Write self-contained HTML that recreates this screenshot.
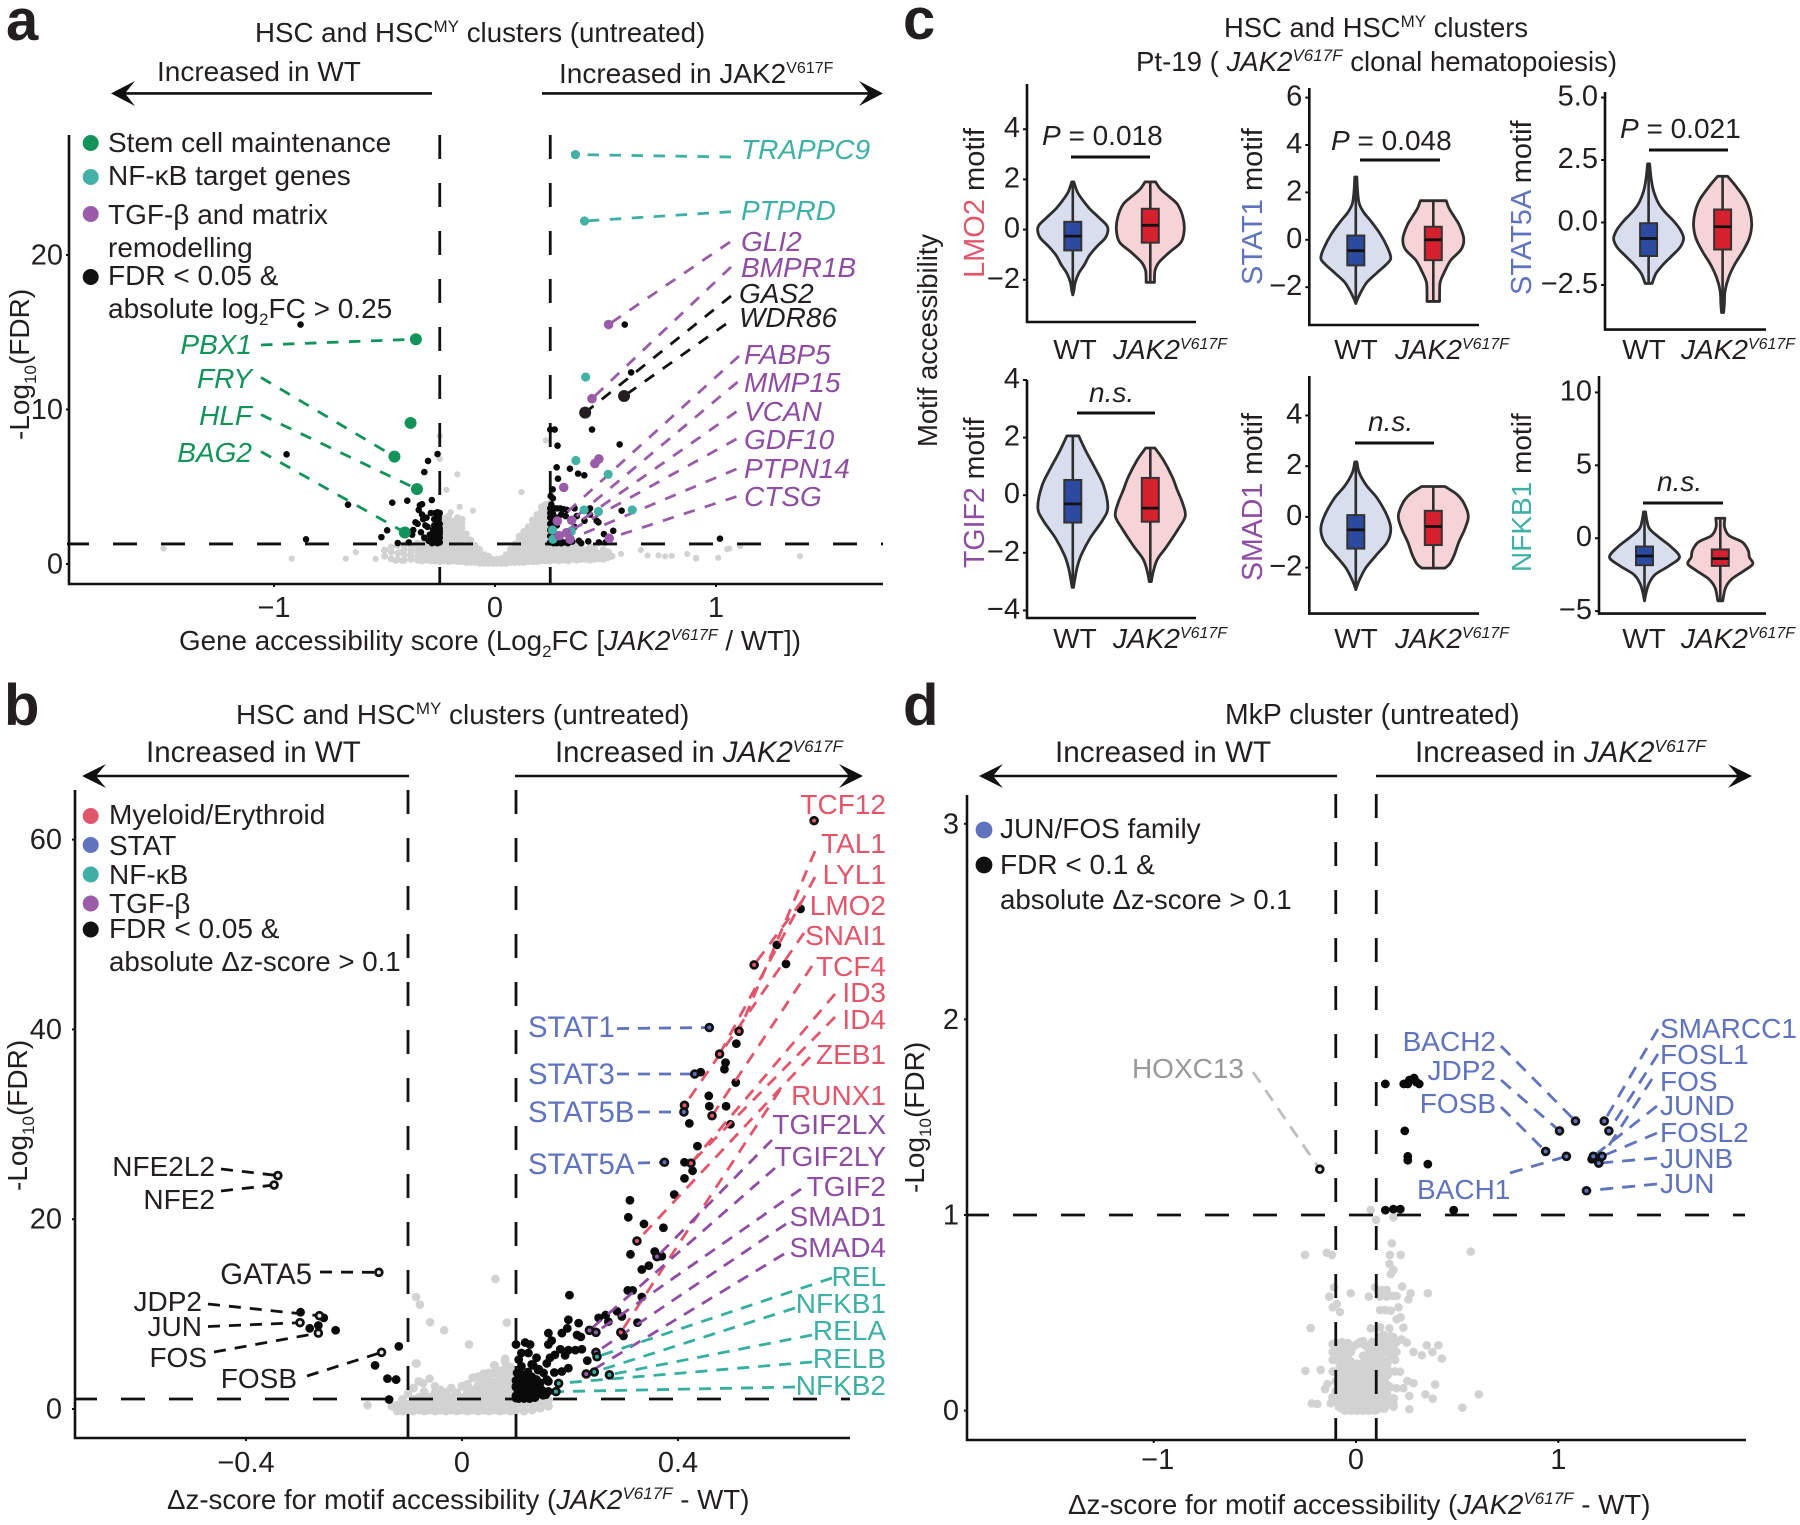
<!DOCTYPE html>
<html lang="en">
<head>
<meta charset="utf-8">
<title>Volcano and violin plots of motif accessibility</title>
<style>
html,body{margin:0;padding:0;background:#fff}
svg{display:block}
text{font-family:"Liberation Sans",sans-serif;fill:#231F20;font-size:28px}
.lt{font-size:58px;font-weight:700}
.i{font-style:italic}
.tk{font-size:29px}
.grn{fill:#12935A}.tl{fill:#3FB0A5}.pu{fill:#8F4CA3}.rd{fill:#E2566B}.bl{fill:#5F73BF}
</style>
</head>
<body>
<svg id="figure" xmlns="http://www.w3.org/2000/svg" width="1800" height="1525" viewBox="0 0 1800 1525">
<rect width="1800" height="1525" fill="#fff"/>

<!-- PANEL A -->
<g id="panel-a">
<text class="lt" x="6" y="40">a</text>
<text x="255" y="42" style="font-size:27.7px">HSC and HSC<tspan dy="-10" style="font-size:17px">MY</tspan><tspan dy="10"> clusters (untreated)</tspan></text>
<text x="157" y="81">Increased in WT</text>
<text x="559" y="83">Increased in JAK2<tspan dy="-10" style="font-size:16px">V617F</tspan></text>
<line x1="432" y1="93.4" x2="125" y2="93.4" stroke="#111" stroke-width="2.6"/>
<path d="M111 93.4 L135 81 L125 93.4 L135 106 Z" fill="#111"/>
<line x1="542" y1="93.4" x2="870" y2="93.4" stroke="#111" stroke-width="2.6"/>
<path d="M883 93.4 L859 81 L869 93.4 L859 106 Z" fill="#111"/>
<g id="a-marks"></g>
<line x1="69" y1="135" x2="69" y2="585" stroke="#111" stroke-width="2.6"/>
<line x1="68" y1="584" x2="883" y2="584" stroke="#111" stroke-width="2.6"/>
<g id="a-ticks"></g>
<text x="179" y="650" style="font-size:27.8px">Gene accessibility score (Log<tspan dy="7" style="font-size:17px">2</tspan><tspan dy="-7">FC [</tspan><tspan class="i">JAK2</tspan><tspan class="i" dy="-10" style="font-size:16px">V617F</tspan><tspan dy="10"> / WT])</tspan></text>
<text transform="translate(29,440) rotate(-90)" x="0" y="0">-Log<tspan dy="7" style="font-size:17px">10</tspan><tspan dy="-7">(FDR)</tspan></text>
<g>
<circle cx="90.7" cy="143" r="8" fill="#12935A"/>
<circle cx="90.7" cy="177" r="8" fill="#43B1A6"/>
<circle cx="90.7" cy="214" r="8" fill="#9A5BA8"/>
<circle cx="90.7" cy="277" r="8" fill="#111"/>
<text x="108" y="152">Stem cell maintenance</text>
<text x="108" y="185">NF-κB target genes</text>
<text x="108" y="224">TGF-β and matrix</text>
<text x="108" y="257">remodelling</text>
<text x="108" y="285">FDR &lt; 0.05 &amp;</text>
<text x="108" y="318">absolute log<tspan dy="7" style="font-size:17px">2</tspan><tspan dy="-7">FC &gt; 0.25</tspan></text>
</g>
<g class="i" text-anchor="end">
<text class="i grn" x="252" y="354">PBX1</text>
<text class="i grn" x="252" y="388">FRY</text>
<text class="i grn" x="252" y="425">HLF</text>
<text class="i grn" x="252" y="462">BAG2</text>
</g>
<g>
<text class="i tl" x="741" y="159">TRAPPC9</text>
<text class="i tl" x="741" y="220">PTPRD</text>
<text class="i pu" x="741" y="251">GLI2</text>
<text class="i pu" x="741" y="277">BMPR1B</text>
<text class="i" x="739" y="303">GAS2</text>
<text class="i" x="739" y="327">WDR86</text>
<text class="i pu" x="744" y="364">FABP5</text>
<text class="i pu" x="744" y="392">MMP15</text>
<text class="i pu" x="744" y="421">VCAN</text>
<text class="i pu" x="744" y="449">GDF10</text>
<text class="i pu" x="744" y="478">PTPN14</text>
<text class="i pu" x="744" y="506">CTSG</text>
</g>
</g>

<!-- PANEL B -->
<g id="panel-b">
<text class="lt" x="4" y="725">b</text>
<text x="236" y="724" style="font-size:27.9px">HSC and HSC<tspan dy="-10" style="font-size:17px">MY</tspan><tspan dy="10"> clusters (untreated)</tspan></text>
<text x="146" y="762" style="font-size:29.5px">Increased in WT</text>
<text x="555" y="762" style="font-size:29.3px">Increased in <tspan class="i">JAK2</tspan><tspan class="i" dy="-10" style="font-size:17px">V617F</tspan></text>
<line x1="409" y1="776" x2="96" y2="776" stroke="#111" stroke-width="2.6"/>
<path d="M82 776 L106 764 L96 776 L106 788 Z" fill="#111"/>
<line x1="515" y1="776" x2="850" y2="776" stroke="#111" stroke-width="2.6"/>
<path d="M863 776 L839 764 L849 776 L839 788 Z" fill="#111"/>
<g id="b-marks"></g>
<line x1="75" y1="790" x2="75" y2="1439" stroke="#111" stroke-width="2.6"/>
<line x1="74" y1="1438" x2="850" y2="1438" stroke="#111" stroke-width="2.6"/>
<g id="b-ticks"></g>
<text x="167" y="1509" style="font-size:27.7px">Δz-score for motif accessibility (<tspan class="i">JAK2</tspan><tspan class="i" dy="-10" style="font-size:17px">V617F</tspan><tspan dy="10"> - WT)</tspan></text>
<text transform="translate(27,1191) rotate(-90)" x="0" y="0">-Log<tspan dy="7" style="font-size:17px">10</tspan><tspan dy="-7">(FDR)</tspan></text>
<g>
<circle cx="90.7" cy="816" r="8" fill="#E2566B"/>
<circle cx="90.7" cy="845" r="8" fill="#5F73BF"/>
<circle cx="90.7" cy="874.5" r="8" fill="#3FB0A5"/>
<circle cx="90.7" cy="903.5" r="8" fill="#9A5BA8"/>
<circle cx="90.7" cy="929.5" r="8" fill="#111"/>
<text x="109" y="824">Myeloid/Erythroid</text>
<text x="109" y="855">STAT</text>
<text x="109" y="884">NF-κB</text>
<text x="109" y="913">TGF-β</text>
<text x="109" y="938">FDR &lt; 0.05 &amp;</text>
<text x="109" y="971" style="font-size:27.7px">absolute Δz-score &gt; 0.1</text>
</g>
<g text-anchor="end">
<text class="rd" x="886" y="814">TCF12</text>
<text class="rd" x="886" y="853">TAL1</text>
<text class="rd" x="886" y="884">LYL1</text>
<text class="rd" x="886" y="915">LMO2</text>
<text class="rd" x="886" y="945">SNAI1</text>
<text class="rd" x="886" y="976">TCF4</text>
<text class="rd" x="886" y="1002">ID3</text>
<text class="rd" x="886" y="1029">ID4</text>
<text class="rd" x="886" y="1064">ZEB1</text>
<text class="rd" x="886" y="1105">RUNX1</text>
<text class="pu" x="886" y="1134">TGIF2LX</text>
<text class="pu" x="886" y="1166">TGIF2LY</text>
<text class="pu" x="886" y="1196">TGIF2</text>
<text class="pu" x="886" y="1226">SMAD1</text>
<text class="pu" x="886" y="1257">SMAD4</text>
<text class="tl" x="886" y="1286">REL</text>
<text class="tl" x="886" y="1313">NFKB1</text>
<text class="tl" x="886" y="1340">RELA</text>
<text class="tl" x="886" y="1368">RELB</text>
<text class="tl" x="886" y="1395">NFKB2</text>
</g>
<g style="font-size:29px">
<text class="bl" x="528" y="1037" style="font-size:29.3px">STAT1</text>
<text class="bl" x="528" y="1084" style="font-size:29.3px">STAT3</text>
<text class="bl" x="528" y="1122" style="font-size:29.3px">STAT5B</text>
<text class="bl" x="528" y="1174" style="font-size:29.3px">STAT5A</text>
</g>
<g text-anchor="end">
<text x="215" y="1176">NFE2L2</text>
<text x="215" y="1209">NFE2</text>
<text x="312" y="1284" style="font-size:29.3px">GATA5</text>
<text x="202" y="1311">JDP2</text>
<text x="202" y="1336">JUN</text>
<text x="207" y="1367">FOS</text>
<text x="297" y="1388">FOSB</text>
</g>
</g>

<!-- PANEL C -->
<g id="panel-c">
<text class="lt" x="903" y="39">c</text>
<text x="1224" y="37" style="font-size:27.4px">HSC and HSC<tspan dy="-10" style="font-size:17px">MY</tspan><tspan dy="10"> clusters</tspan></text>
<text x="1136" y="71" style="font-size:27.6px">Pt-19 ( <tspan class="i">JAK2</tspan><tspan class="i" dy="-10" style="font-size:17px">V617F</tspan><tspan dy="10"> clonal hematopoiesis)</tspan></text>
<text transform="translate(937,447) rotate(-90)" x="0" y="0" style="font-size:27.4px">Motif accessibility</text>
<g id="c-marks"></g>
<g style="font-size:29px">
<text transform="translate(984,278) rotate(-90)" x="0" y="0" style="font-size:29px"><tspan class="rd">LMO2</tspan> motif</text>
<text transform="translate(1262,285) rotate(-90)" x="0" y="0" style="font-size:29px"><tspan class="bl">STAT1</tspan> motif</text>
<text transform="translate(1531,295) rotate(-90)" x="0" y="0" style="font-size:29px"><tspan class="bl">STAT5A</tspan> motif</text>
<text transform="translate(984,568) rotate(-90)" x="0" y="0" style="font-size:28.5px"><tspan class="pu">TGIF2</tspan> motif</text>
<text transform="translate(1262,581) rotate(-90)" x="0" y="0" style="font-size:28.5px"><tspan class="pu">SMAD1</tspan> motif</text>
<text transform="translate(1531,572) rotate(-90)" x="0" y="0"><tspan class="tl">NFKB1</tspan> motif</text>
</g>
<g>
<text x="1042" y="145"><tspan class="i">P</tspan> = 0.018</text>
<line x1="1071" y1="157" x2="1150" y2="157" stroke="#111" stroke-width="3"/>
<text x="1331" y="150"><tspan class="i">P</tspan> = 0.048</text>
<line x1="1360" y1="160" x2="1440" y2="160" stroke="#111" stroke-width="3"/>
<text x="1620" y="138"><tspan class="i">P</tspan> = 0.021</text>
<line x1="1649" y1="150" x2="1728" y2="150" stroke="#111" stroke-width="3"/>
<text class="i" x="1089" y="402">n.s.</text>
<line x1="1077" y1="413" x2="1155" y2="413" stroke="#111" stroke-width="3"/>
<text class="i" x="1368" y="431">n.s.</text>
<line x1="1355" y1="443" x2="1434" y2="443" stroke="#111" stroke-width="3"/>
<text class="i" x="1657" y="491">n.s.</text>
<line x1="1643" y1="503" x2="1723" y2="503" stroke="#111" stroke-width="3"/>
</g>
</g>

<!-- PANEL D -->
<g id="panel-d">
<text class="lt" x="903" y="725">d</text>
<text x="1225" y="724" style="font-size:28.4px">MkP cluster (untreated)</text>
<text x="1055" y="762" style="font-size:29.7px">Increased in WT</text>
<text x="1415" y="762" style="font-size:29.5px">Increased in <tspan class="i">JAK2</tspan><tspan class="i" dy="-10" style="font-size:17.5px">V617F</tspan></text>
<line x1="1337" y1="776" x2="993" y2="776" stroke="#111" stroke-width="2.6"/>
<path d="M979 776 L1003 764 L993 776 L1003 788 Z" fill="#111"/>
<line x1="1376" y1="776" x2="1740" y2="776" stroke="#111" stroke-width="2.6"/>
<path d="M1752 776 L1728 764 L1738 776 L1728 788 Z" fill="#111"/>
<g id="d-marks"></g>
<line x1="967" y1="795" x2="967" y2="1441" stroke="#111" stroke-width="2.6"/>
<line x1="966" y1="1440" x2="1746" y2="1440" stroke="#111" stroke-width="2.6"/>
<g id="d-ticks"></g>
<text x="1068" y="1514" style="font-size:27.7px">Δz-score for motif accessibility (<tspan class="i">JAK2</tspan><tspan class="i" dy="-10" style="font-size:17px">V617F</tspan><tspan dy="10"> - WT)</tspan></text>
<text transform="translate(924,1193) rotate(-90)" x="0" y="0">-Log<tspan dy="7" style="font-size:17px">10</tspan><tspan dy="-7">(FDR)</tspan></text>
<g>
<circle cx="984" cy="830" r="8.4" fill="#5F73BF"/>
<circle cx="984" cy="865" r="8.4" fill="#111"/>
<text x="1000" y="838">JUN/FOS family</text>
<text x="1000" y="874">FDR &lt; 0.1 &amp;</text>
<text x="1000" y="909" style="font-size:27.7px">absolute Δz-score &gt; 0.1</text>
</g>
<g>
<text class="bl" x="1660" y="1038">SMARCC1</text>
<text class="bl" x="1660" y="1064">FOSL1</text>
<text class="bl" x="1660" y="1091">FOS</text>
<text class="bl" x="1660" y="1115">JUND</text>
<text class="bl" x="1660" y="1142">FOSL2</text>
<text class="bl" x="1660" y="1168">JUNB</text>
<text class="bl" x="1660" y="1193">JUN</text>
<text class="bl" x="1496" y="1051" text-anchor="end">BACH2</text>
<text class="bl" x="1496" y="1080" text-anchor="end">JDP2</text>
<text class="bl" x="1496" y="1113" text-anchor="end">FOSB</text>
<text class="bl" x="1417" y="1199">BACH1</text>
<text x="1244" y="1078" text-anchor="end" style="fill:#999">HOXC13</text>
</g>
</g>
</svg>

<script>
/* ---------- PANEL A DATA ---------- */
const aXTicks = [-1, 0, 1];
const aXTickLabels = ["−1", "0", "1"];
const aYTicks = [0, 10, 20];
const aYTickLabels = ["0", "10", "20"];
const aThresholdX = [-0.25, 0.25];
const aThresholdY = 1.3;
const aGreyOutlierX = [-1.5,-0.92,-0.675,-0.63,-0.54,-0.45,-0.42,-0.43,-0.38,-0.2,-0.16,-0.17,-0.22,-0.25,-0.25,-0.1,0.12,0.23,0.42,0.516,0.57,0.478,0.66,0.69,0.74,0.77,0.80,0.87,0.91,1.05,1.01,1.11,1.06,1.38,0.91];
const aGreyOutlierY = [1.0,0.35,0.35,0.76,0.33,0.2,0.2,0.76,0.7,3.35,3.7,5.8,4.8,6.8,8.3,3.45,4.65,8,0.75,0.76,0.65,0.41,0.9,0.55,0.55,0.5,0.53,0.65,0.4,0.97,0.4,1.15,1,0.5,0.35];
const aGreyColumns = [
[-0.5,[0.5,0.9]],[-0.47,[0.35,0.8,1.1]],[-0.44,[0.3,0.7,1.2]],[-0.41,[0.25,0.6,0.95,1.25]],[-0.38,[0.3,0.55,0.9,1.2]],
[-0.35,[0.25,0.5,0.8,1.1,1.35]],[-0.33,[0.2,0.45,0.75,1.05,1.3]],[-0.31,[0.25,0.5,0.8,1.1,1.4]],[-0.29,[0.2,0.45,0.7,1,1.3,1.6]],
[-0.27,[0.2,0.4,0.7,0.95,1.25,1.6,2]],[-0.25,[0.15,0.4,0.65,0.9,1.2,1.5,1.9,2.3,2.7]],[-0.23,[0.2,0.45,0.7,1,1.3,1.6,1.95,2.3,2.6,2.95]],
[-0.21,[0.15,0.4,0.65,0.95,1.25,1.55,1.9,2.2,2.5,2.85,3.1]],[-0.19,[0.2,0.4,0.7,1,1.3,1.6,1.9,2.15,2.45,2.75]],[-0.17,[0.15,0.4,0.7,0.95,1.2,1.5,1.8,2.1,2.4,2.7,3]],
[-0.15,[0.15,0.4,0.65,0.9,1.2,1.45,1.7,2,2.35,2.65,2.9]],[-0.13,[0.1,0.35,0.6,0.85,1.1,1.4,1.65,1.95]],[-0.11,[0.1,0.3,0.55,0.8,1.05,1.3,1.55]],
[-0.09,[0.1,0.3,0.5,0.75,1,1.2]],[-0.07,[0.05,0.3,0.5,0.7,0.95]],[-0.05,[0.05,0.25,0.45,0.6]],[-0.03,[0.05,0.2,0.35,0.5]],[-0.01,[0.05,0.2,0.3]],
[0.01,[0.05,0.15,0.3]],[0.03,[0.05,0.2,0.35]],[0.05,[0.05,0.25,0.45,0.6]],[0.07,[0.1,0.3,0.5,0.75,0.95]],[0.09,[0.1,0.3,0.55,0.8,1.05,1.3]],
[0.11,[0.1,0.35,0.6,0.85,1.1,1.35,1.6,1.8]],[0.13,[0.1,0.3,0.55,0.8,1.05,1.3,1.6,1.85,2.1]],[0.15,[0.15,0.35,0.6,0.85,1.15,1.45,1.75,2.05,2.4]],
[0.17,[0.15,0.4,0.7,1,1.3,1.6,1.9,2.2,2.55,2.85]],[0.19,[0.15,0.4,0.65,0.95,1.25,1.55,1.85,2.2,2.5,2.85,3.2]],[0.21,[0.2,0.45,0.75,1.05,1.35,1.7,2,2.35,2.7,3.05,3.4,3.7]],
[0.23,[0.2,0.4,0.7,1,1.3,1.65,2,2.3,2.65,3,3.35,3.6,3.85]],[0.25,[0.2,0.45,0.7,1,1.3,1.6,1.95,2.3,2.6,2.95,3.3,3.6,3.95]],[0.27,[0.25,0.5,0.8,1.1,1.4,1.7,2.05]],
[0.29,[0.2,0.5,0.8,1.05,1.35]],[0.31,[0.25,0.55,0.85,1.15]],[0.33,[0.2,0.5,0.75,1.05,1.35]],[0.35,[0.3,0.6,0.9,1.2]],[0.37,[0.25,0.55,0.85,1.15]],
[0.39,[0.3,0.6,0.95,1.25]],[0.41,[0.3,0.6,0.9]],[0.43,[0.25,0.55,0.85,1.15]],[0.45,[0.3,0.65,1]],[0.47,[0.35,0.7]],[0.49,[0.3,0.65,0.95]],[0.51,[0.4,0.8]],[0.53,[0.5]]
];
const aStemX = [-0.358,-0.382,-0.455,-0.353,-0.408];
const aStemY = [14.55,9.13,6.95,4.85,2.04];
const aNfkbX = [0.364,0.405,0.41,0.366,0.512,0.403,0.468,0.621,0.26,0.262,0.345];
const aNfkbY = [26.5,22.2,12.1,6.7,5.8,3.5,3.4,3.5,2.2,1.6,2.1];
const aTgfbX = [0.514,0.439,0.47,0.452,0.311,0.282,0.347,0.291,0.324,0.339,0.517];
const aTgfbY = [15.5,10.7,6.8,6.5,4.96,2.78,2.83,1.83,2.03,1.6,1.66];
const aBigBlackX = [0.408,0.584];
const aBigBlackY = [9.8,10.87];
const aBlackX = [-0.88,-0.943,-0.855,-0.665,-0.465,-0.397,-0.33,-0.286,-0.26,-0.303,-0.32,-0.514,-0.488,-0.44,-0.36,-0.37,-0.375,-0.39,-0.34,-0.345,-0.33,-0.35,-0.325,-0.31,-0.315,-0.335,-0.32,-0.305,-0.295,-0.3,-0.29,-0.285,-0.28,-0.275,-0.27,-0.265,-0.26,-0.255,-0.25,-0.285,-0.28,-0.275,-0.27,-0.265,-0.26,-0.255,-0.25,-0.275,-0.27,-0.265,-0.26,-0.255,-0.25,-0.27,-0.265,-0.26,-0.255,-0.25,-0.265,-0.26,-0.255,-0.25,-0.26,-0.255,-0.25,-0.26,-0.255,-0.25,
0.587,0.616,0.25,0.27,0.439,0.283,0.564,0.279,0.339,0.376,0.404,0.285,0.261,0.252,0.262,0.255,0.25,0.26,0.27,0.25,0.262,0.28,0.295,0.31,0.325,0.25,0.265,0.28,0.3,0.32,0.36,0.4,0.43,0.573,0.37,0.43,0.405,0.468,0.46,0.535,0.493,0.38,0.422,1.018,0.25,0.265,0.28,0.25,0.265,0.25,0.265,0.28,0.3,0.32,0.35,0.25,0.265,0.28,0.3,0.33,0.39,0.5,0.47,0.36,0.26,0.28,0.3];
const aBlackY = [15.5,7.1,1.6,3.84,3.97,4.1,3.87,4.14,7.12,6.67,5.95,1.74,2.18,1.36,2.7,2.2,1.9,1.4,3.8,3.5,3.2,2.6,2.9,3.0,2.5,2.05,1.7,2.4,1.9,1.5,3.3,1.35,1.9,2.5,3.3,3.0,3.35,2.9,3.3,1.6,2.2,2.9,1.4,2.1,2.6,2.05,2.6,1.6,2.05,1.7,1.35,1.75,2.3,1.6,1.4,1.9,1.4,1.7,2.3,1.6,1.5,1.95,2.2,2.4,2.1,2.95,3.05,1.4,
15.5,12.4,8.7,8.7,8.7,7.66,7.74,6.26,6.17,5.85,5.74,5.52,4.83,4.4,4.25,3.85,3.6,3.55,3.6,3.3,3.25,3.6,3.6,3.55,3.5,3.0,2.95,3.0,3.2,3.1,3.6,3.55,3.6,3.45,3.1,3.2,2.8,2.7,2.8,2.15,1.94,1.5,1.47,1.64,2.6,2.4,2.5,2.2,2.0,1.8,1.6,1.7,1.45,1.4,1.45,1.4,1.35,1.35,1.35,1.35,1.35,1.4,1.4,2.4,2.15,1.4,1.35];

/* ---------- PANEL B DATA ---------- */
const bXTicks = [-0.4, 0, 0.4];
const bXTickLabels = ["−0.4", "0", "0.4"];
const bYTicks = [0, 20, 40, 60];
const bYTickLabels = ["0", "20", "40", "60"];
const bThresholdX = [-0.1, 0.1];
const bThresholdY = 1.05;
const bGreyOutlierX = [0.062,-0.085,-0.078,-0.059,-0.033,0.083,0.013,0.08,-0.085,-0.175,-0.13,-0.084,-0.072,-0.06,-0.05];
const bGreyOutlierY = [13.7,11.8,11,9.15,8.3,9.1,6.8,5.3,4.8,0.4,0.3,4.8,2.7,3.2,2.4];
const bGreyColumns = [
[-0.12,[-0.2,0.4]],[-0.11,[-0.2,0.4,1]],[-0.1,[-0.1,0.5,1.6]],[-0.09,[-0.2,0.4,1,2.2]],[-0.08,[-0.1,0.5,1.2,2.9]],[-0.07,[-0.2,0.4,1,1.8]],
[-0.06,[-0.1,0.5,1.2]],[-0.05,[-0.2,0.4,1,1.7]],[-0.04,[-0.1,0.5,1.2,2]],[-0.03,[-0.2,0.4,1,1.7]],[-0.02,[-0.1,0.5,1.2,2.2]],[-0.01,[-0.2,0.4,1,1.7]],
[0,[-0.1,0.5,1.2,2.4]],[0.01,[-0.2,0.4,1,1.7,2.6]],[0.02,[-0.1,0.5,1.2,2,3.3]],[0.03,[-0.2,0.4,1,1.7,2.5,3.4]],[0.04,[-0.1,0.5,1.2,1.9,2.8,3.7]],
[0.05,[-0.2,0.4,1,1.7,2.4,3.2,3.8]],[0.06,[-0.1,0.5,1.2,2,2.8,3.8,4.6]],[0.07,[-0.2,0.4,1,1.7,2.4,3.2,4]],[0.08,[-0.1,0.5,1.2,2,2.7,3.4,4.2,5]],
[0.09,[-0.2,0.4,1,1.7,2.4,3,3.6,4.4]],[0.1,[-0.1,0.5,1.2,2,2.8,3.6]],[0.115,[-0.2,0.4,1]],[0.13,[-0.1,0.5]],[0.145,[0.1,0.7]],[0.16,[0.3,0.9]]
];
const bLeftRingX = [-0.341,-0.348,-0.154,-0.264,-0.30,-0.266,-0.149];
const bLeftRingY = [24.6,23.6,14.4,9.83,9.1,8.0,5.97];
const bRedX = [0.652,0.541,0.513,0.477,0.412,0.463,0.424,0.324,0.294];
const bRedY = [62,46.8,39.8,37.4,32,30.9,25.9,17.7,8.07];
const bBlueX = [0.458,0.431,0.411,0.375];
const bBlueY = [40.2,35.3,31.3,26];
const bPurpleX = [0.361,0.236,0.248,0.248,0.23];
const bPurpleY = [16.05,8.29,8.08,5.97,3.69];
const bTealX = [0.25,0.245,0.273,0.179,0.174];
const bTealY = [5.51,3.9,3.6,2.7,1.83];
const bBlackX = [-0.299,-0.256,-0.282,-0.266,-0.234,-0.117,-0.161,-0.138,-0.122,-0.135,
0.627,0.583,0.6,0.508,0.488,0.486,0.507,0.442,0.457,0.458,0.489,0.421,0.497,0.436,0.412,0.412,0.427,0.393,0.311,0.308,0.337,0.373,0.357,0.37,0.312,0.346,0.333,0.307,0.316,0.333,0.199,0.325,0.299,
0.197,0.216,0.253,0.266,0.287,0.296,0.271,0.195,0.185,0.213,0.22,0.16,0.166,0.16,0.182,0.222,0.21,0.197,0.191,0.172,0.232,0.163,0.157,0.197,0.185,0.171,0.16,
0.1,0.117,0.126,0.11,0.123,0.138,0.11,0.129,0.141,0.151,0.117,0.129,0.138,0.108,0.12,0.104,0.114,0.126,0.135,0.148,0.16,0.1,0.11,0.123,0.145,0.157,0.105,0.115,0.125,0.135,0.102,0.112,0.122,0.132,0.142,0.105,0.118,0.13,0.145,0.155,0.102,0.11,0.12,0.1,0.13,0.15,
0.1,0.108,0.116,0.124,0.132,0.1,0.108,0.116,0.124,0.132,0.1,0.108,0.116,0.124,0.132,0.14,0.104,0.112,0.12,0.128,0.136];
const bBlackY = [10.2,9.6,8.5,8.8,8.3,6.6,4.6,3.2,3.1,1.0,
52.7,48.9,46.9,38.5,36.5,35.8,34.4,35.5,33,31.9,31.9,30.1,30,27.7,26,24.3,25.1,22.6,22,20.2,19.5,19.1,16.6,16.1,16.3,15.1,14.7,12.5,12.5,11.8,12,9.1,7.7,
9.4,9.05,9.6,9.9,10.3,9.75,9.2,8.5,8,7.8,7.6,8,7.2,6.8,6.3,6.3,6.2,6.2,5.65,5.7,5.1,5.4,4.8,4.3,3.95,3.85,2.9,
6.8,7,6.8,5.9,5.9,5.4,4.5,4.7,4.1,3.8,3.3,3.4,3.1,2.75,2.2,1.85,1.3,1.5,2.2,2,1.85,1.15,2,2.75,2.75,3.1,1.1,1.1,1.1,1.2,3.8,3.6,3.9,4.6,4.2,5.2,2.9,3.2,1.6,1.5,1.3,1.7,1.4,2.3,2.4,1.45,
1.4,1.2,1.3,1.15,1.25,2.4,2.6,2.2,2.45,2.1,3,3.3,3.1,3.4,3.2,2.6,1.8,1.7,1.9,1.6,1.75];

/* ---------- PANEL C DATA ---------- */
const cGroupLabels = ["WT", "JAK2"];
const lmo2Ticks = [-2,0,2,4];
const lmo2WtVal = [1.9,1.5,1.2,0.85,0.5,0.17,-0.08,-0.35,-0.7,-1.04,-1.4,-1.74,-2.1,-2.43,-2.6];
const lmo2WtDen = [0.03,0.13,0.27,0.47,0.73,0.97,1,0.92,0.67,0.47,0.33,0.17,0.07,0.03,0];
const lmo2MutVal = [1.9,1.6,1.3,1,0.5,0,-0.5,-0.9,-1.3,-1.6,-1.9,-2.1];
const lmo2MutDen = [0.15,0.3,0.55,0.78,0.93,0.97,0.88,0.55,0.25,0.14,0.12,0.12];
const lmo2WtBox = [-0.83,-0.26,0.31];
const lmo2MutBox = [-0.52,0.17,0.83];
const stat1Ticks = [-2,0,2,4,6];
const stat1WtVal = [2.65,2.07,1.52,1.15,0.79,0.24,-0.31,-0.77,-1.04,-1.4,-1.77,-2.14,-2.5,-2.69];
const stat1WtDen = [0.03,0.05,0.1,0.23,0.43,0.7,0.9,1,0.87,0.6,0.33,0.17,0.05,0];
const stat1MutVal = [1.65,1.33,0.97,0.6,0.05,-0.4,-0.86,-1.32,-1.77,-2.23,-2.6];
const stat1MutDen = [0.37,0.45,0.6,0.75,0.87,0.8,0.5,0.33,0.2,0.18,0.18];
const stat1WtBox = [-1.08,-0.46,0.18];
const stat1MutBox = [-0.86,0,0.55];
const stat5aTicks = [-2.5,0,2.5,5];
const stat5aTickLabels = ["−2.5","0.0","2.5","5.0"];
const stat5aWtVal = [2.35,1.79,1.27,0.75,0.4,0.05,-0.3,-0.64,-0.99,-1.34,-1.69,-2.04,-2.44];
const stat5aWtDen = [0.03,0.07,0.14,0.29,0.48,0.72,0.91,1,0.9,0.66,0.41,0.21,0.1];
const stat5aMutVal = [1.85,1.45,0.92,0.4,-0.12,-0.64,-1.17,-1.69,-2.21,-2.74,-3.26,-3.6];
const stat5aMutDen = [0.14,0.38,0.65,0.79,0.83,0.76,0.57,0.34,0.17,0.07,0.05,0.03];
const stat5aWtBox = [-1.34,-0.64,-0.03];
const stat5aMutBox = [-1.08,-0.17,0.52];
const tgif2Ticks = [-4,-2,0,2,4];
const tgif2WtVal = [2.06,1.54,0.93,0.33,-0.42,-0.87,-1.48,-2.08,-2.53,-2.98,-3.2];
const tgif2WtDen = [0.17,0.37,0.64,0.88,1,0.85,0.5,0.24,0.12,0.05,0.02];
const tgif2MutVal = [1.64,1.23,0.63,0.18,-0.27,-0.72,-1.17,-1.78,-2.23,-2.68,-3];
const tgif2MutDen = [0.13,0.37,0.63,0.77,0.92,1,0.8,0.47,0.2,0.08,0.03];
const tgif2WtBox = [-0.95,-0.3,0.53];
const tgif2MutBox = [-0.92,-0.45,0.6];
const smad1Ticks = [-2,0,2,4];
const smad1WtVal = [2.17,1.74,1.23,0.72,0.03,-0.48,-0.99,-1.5,-2.02,-2.53,-2.87];
const smad1WtDen = [0.03,0.1,0.31,0.62,0.9,1,0.9,0.59,0.28,0.09,0];
const smad1MutVal = [1.2,0.89,0.55,0.03,-0.48,-0.99,-1.5,-1.85,-2.02];
const smad1MutDen = [0.33,0.67,0.87,1,0.9,0.73,0.6,0.47,0.33];
const smad1WtBox = [-1.25,-0.51,0.07];
const smad1MutBox = [-1.11,-0.38,0.24];
const nfkb1Ticks = [-5,0,5,10];
const nfkb1WtVal = [1.8,1.2,0.63,0.03,-0.57,-1.3,-1.9,-2.5,-3.1,-3.7,-4.3];
const nfkb1WtDen = [0.03,0.07,0.15,0.43,0.75,1,0.7,0.3,0.13,0.05,0];
const nfkb1MutVal = [1.37,0.77,0.18,-0.27,-0.86,-1.3,-1.76,-2.2,-2.8,-3.4,-4.3];
const nfkb1MutDen = [0.13,0.12,0.25,0.63,0.8,0.83,0.93,0.7,0.33,0.15,0.07];
const nfkb1WtBox = [-1.85,-1.22,-0.57];
const nfkb1MutBox = [-1.9,-1.4,-0.77];

/* ---------- PANEL D DATA ---------- */
const dXTicks = [-1, 0, 1];
const dXTickLabels = ["−1", "0", "1"];
const dYTicks = [0, 1, 2, 3];
const dYTickLabels = ["0", "1", "2", "3"];
const dThresholdX = [-0.1, 0.1];
const dThresholdY = 1;
const dGreyOutlierX = [-0.252,-0.145,-0.12,0.177,0.168,0.221,0.165,0.185,0.172,0.567,0.073,0.099,0.185,-0.109,-0.132,-0.026,0.063,0.094,0.127,0.152,0.119,0.152,0.181,0.201,0.228,0.27,0.259,0.355,-0.115,-0.095,-0.079,0.119,0.144,0.172,0.21,0.221,0.201,-0.224,0.073,0.119,0.165,0.234,0.135,0.185,0.226,0.251,0.35,0.407,0.284,0.325,0.378,0.424,0.193,0.218,0.193,-0.25,-0.175,0.254,0.284,0.391,-0.141,-0.153,0.201,0.234,0.264,0.343,0.379,0.607,0.264,0.526,-0.219,-0.191,-0.117,-0.125,0.185,0.188];
const dGreyOutlierY = [0.796,0.807,0.796,0.855,0.796,0.796,0.75,0.719,0.698,0.813,1.026,0.975,0.988,0.63,0.583,0.6,0.583,0.63,0.617,0.617,0.583,0.583,0.586,0.586,0.634,0.6,0.569,0.6,0.528,0.545,0.504,0.514,0.514,0.511,0.528,0.477,0.467,0.422,0.421,0.426,0.421,0.424,0.387,0.375,0.364,0.347,0.334,0.334,0.3,0.283,0.3,0.266,0.259,0.199,0.2,0.203,0.208,0.152,0.14,0.133,0.136,0.11,0.114,0.114,0.075,0.083,0.061,0.083,0.007,0.015,0.037,0.034,0.068,0.037,0.034,0.063];
const dGreyColumns = [
[-0.115,[0.2,0.26,0.3,0.34]],[-0.1,[0.05,0.1,0.15,0.2,0.26,0.31,0.345]],[-0.085,[0.02,0.06,0.11,0.16,0.21,0.25,0.3,0.34]],
[-0.07,[0.01,0.05,0.09,0.14,0.18,0.23,0.27,0.32,0.35]],[-0.055,[0,0.04,0.08,0.12,0.17,0.21,0.26,0.3,0.34]],[-0.04,[0.01,0.05,0.09,0.13,0.18,0.22,0.27,0.32,0.345]],
[-0.025,[0,0.04,0.08,0.13,0.17,0.21,0.25,0.3]],[-0.01,[0.01,0.05,0.09,0.13,0.17,0.22,0.33]],[0.005,[0,0.04,0.08,0.12,0.16,0.2,0.24,0.34]],
[0.02,[0.01,0.05,0.09,0.13,0.17,0.21,0.35]],[0.035,[0,0.04,0.08,0.12,0.16,0.2,0.24,0.28,0.34,0.355]],[0.05,[0.01,0.05,0.09,0.13,0.17,0.21,0.26,0.33]],
[0.065,[0,0.04,0.08,0.12,0.16,0.2,0.24,0.3]],[0.08,[0.01,0.05,0.09,0.14,0.18,0.22,0.26,0.31,0.35]],[0.095,[0,0.04,0.08,0.13,0.17,0.21,0.25,0.3,0.34]],
[0.11,[0.01,0.05,0.09,0.13,0.17,0.22,0.27,0.32,0.36]],[0.125,[0.02,0.06,0.1,0.14,0.19,0.24,0.28,0.33,0.38]],[0.14,[0.01,0.05,0.1,0.15,0.2,0.25,0.3,0.35]],
[0.155,[0.03,0.08,0.13,0.18,0.24,0.31,0.36]],[0.17,[0.06,0.12,0.2,0.28,0.34,0.38]],[0.185,[0.02,0.32,0.36]],[0.2,[0.3,0.35]]
];
const dBlackX = [0.145,0.236,0.264,0.287,0.298,0.3125,0.256,0.241,0.256,0.256,0.355,0.145,0.185,0.219,0.483,1.165];
const dBlackY = [1.67,1.67,1.69,1.70,1.68,1.67,1.67,1.43,1.3,1.28,1.26,1.025,1.03,1.03,1.025,1.285];
const dBlueX = [1.085,1.006,0.9375,1.04,1.227,1.25,1.216,1.173,1.2,1.139];
const dBlueY = [1.48,1.43,1.325,1.30,1.48,1.43,1.30,1.30,1.265,1.124];
const dHoxX = [-0.179];
const dHoxY = [1.234];

/* ---------- HELPERS ---------- */
const SVG_NS = "http://www.w3.org/2000/svg";
function make(parent, tag, attrs) {
  const node = document.createElementNS(SVG_NS, tag);
  for (const k in attrs) node.setAttribute(k, attrs[k]);
  parent.appendChild(node);
  return node;
}
function linear(d0, p0, d1, p1) {
  return function (v) { return p0 + (v - d0) * (p1 - p0) / (d1 - d0); };
}
function drawDots(group, xs, ys, xf, yf, r, fill, stroke, sw, label) {
  for (let i = 0; i < xs.length; i++) {
    const c = make(group, "circle", {cx: xf(xs[i]), cy: yf(ys[i]), r: r, fill: fill, stroke: stroke, "stroke-width": sw});
    
    
  }
}
function drawColumns(group, cols, xf, yf, r, fill, label) {
  cols.forEach(function (col) {
    col[1].forEach(function (y) {
      const c = make(group, "circle", {cx: xf(col[0]), cy: yf(y), r: r, fill: fill});
      
      
    });
  });
}
function leader(group, x1, y1, x2, y2, color, sw, dash, label) {
  const l = make(group, "line", {x1: x1, y1: y1, x2: x2, y2: y2, stroke: color, "stroke-width": sw, "stroke-dasharray": dash});
  
  
}
function thresholds(group, vals, hval, xf, yf, top, bottom, left, right, color) {
  vals.forEach(function (v) {
    const l = make(group, "line", {x1: xf(v), y1: top, x2: xf(v), y2: bottom, stroke: color, "stroke-width": 2.8, "stroke-dasharray": "24 24"});
    
    
  });
  const h = make(group, "line", {x1: left, y1: yf(hval), x2: right, y2: yf(hval), stroke: color, "stroke-width": 2.8, "stroke-dasharray": "24 24", "stroke-dashoffset": 2});
  
  
}
function axisTicks(group, ticks, labels, pos, axisPos, horizontal, textPos, tickSize, shift) {
  ticks.forEach(function (t, i) {
    const p = pos(t);
    const attrs = horizontal
      ? {x1: p, y1: axisPos, x2: p, y2: axisPos + tickSize, stroke: "#111", "stroke-width": 2}
      : {x1: axisPos, y1: p, x2: axisPos - tickSize, y2: p, stroke: "#111", "stroke-width": 2};
    const m = make(group, "line", attrs);
    
    
    const txt = make(group, "text", horizontal
      ? {x: p + (t < 0 ? shift : 0), y: textPos, "text-anchor": "middle", "class": "tk"}
      : {x: textPos, y: p + shift, "text-anchor": "end", "class": "tk"});
    txt.textContent = labels[i];
    
    
  });
}

/* ---------- PANEL A ---------- */
(function () {
  const g = document.getElementById("a-marks");
  const x = linear(0, 495, 1, 716), y = linear(0, 564, 10, 409.5);
  const GREEN = "#12935A", TEAL = "#3FB0A5", PURPLE = "#9A5BA8", BLACK = "#111", D = "11.5 10.5";
  drawColumns(g, aGreyColumns, x, y, 3.5, "#D2D2D2", "non-significant-gene");
  drawDots(g, aGreyOutlierX, aGreyOutlierY, x, y, 3.1, "#D2D2D2", "none", 0, "non-significant-gene");
  thresholds(g, aThresholdX, aThresholdY, x, y, 135, 584, 67, 883, "#111");
  leader(g, 261, 345, x(aStemX[0]), y(aStemY[0]), GREEN, 2.8, D, "leader-pbx1");
  leader(g, 261, 377.5, x(aStemX[2]), y(aStemY[2]), GREEN, 2.8, D, "leader-fry");
  leader(g, 261, 414.6, x(aStemX[3]), y(aStemY[3]), GREEN, 2.8, D, "leader-hlf");
  leader(g, 261, 451.6, x(aStemX[4]), y(aStemY[4]), GREEN, 2.8, D, "leader-bag2");
  leader(g, 731, 157, x(aNfkbX[0]), y(aNfkbY[0]), TEAL, 2.8, D, "leader-trappc9");
  leader(g, 731, 211.7, x(aNfkbX[1]), y(aNfkbY[1]), TEAL, 2.8, D, "leader-ptprd");
  leader(g, 730, 242, x(aTgfbX[0]), y(aTgfbY[0]), PURPLE, 2.8, D, "leader-gli2");
  leader(g, 731, 267, x(aTgfbX[1]), y(aTgfbY[1]), PURPLE, 2.8, D, "leader-bmpr1b");
  leader(g, 731, 296, x(aBigBlackX[0]), y(aBigBlackY[0]), BLACK, 2.8, D, "leader-gas2");
  leader(g, 726, 324, x(aBigBlackX[1]), y(aBigBlackY[1]), BLACK, 2.8, D, "leader-wdr86");
  drawDots(g, aBlackX, aBlackY, x, y, 3.3, "#0A0A0A", "none", 0, "significant-gene");
  drawDots(g, aBigBlackX, aBigBlackY, x, y, 6, "#231F20", "none", 0, "highlighted-gene");
  leader(g, 739, 356, x(aTgfbX[5]), y(aTgfbY[5]), PURPLE, 2.8, D, "leader-fabp5");
  leader(g, 737.6, 382, x(aTgfbX[6]), y(aTgfbY[6]), PURPLE, 2.8, D, "leader-mmp15");
  leader(g, 736.5, 411.6, x(aTgfbX[7]), y(aTgfbY[7]), PURPLE, 2.8, D, "leader-vcan");
  leader(g, 736.5, 439, x(aTgfbX[8]), y(aTgfbY[8]), PURPLE, 2.8, D, "leader-gdf10");
  leader(g, 736.5, 469, x(aTgfbX[9]), y(aTgfbY[9]), PURPLE, 2.8, D, "leader-ptpn14");
  leader(g, 736.5, 496.6, x(aTgfbX[10]), y(aTgfbY[10]), PURPLE, 2.8, D, "leader-ctsg");
  drawDots(g, aNfkbX, aNfkbY, x, y, 4.6, "#43B1A6", "none", 0, "nfkb-gene");
  drawDots(g, aTgfbX, aTgfbY, x, y, 4.8, PURPLE, "none", 0, "tgfb-gene");
  drawDots(g, aStemX, aStemY, x, y, 6, GREEN, "none", 0, "stem-cell-gene");
  const t = document.getElementById("a-ticks");
  axisTicks(t, aXTicks, aXTickLabels, x, 584, true, 617, 3, 0);
  axisTicks(t, aYTicks, aYTickLabels, y, 69, false, 63, 3, 9.5);
})();

/* ---------- PANEL B ---------- */
(function () {
  const g = document.getElementById("b-marks");
  const x = linear(0, 462, 0.4, 678), y = linear(0, 1409, 20, 1219.2);
  const RED = "#E2566B", BLUE = "#5F73BF", TEAL = "#35AFA0", PURPLE = "#8F4CA3", BLACK = "#111", D = "12 9";
  const RR = 3.4, RS = 2.8;
  drawColumns(g, bGreyColumns, x, y, 4.5, "#D2D2D2", "non-significant-motif");
  drawDots(g, bGreyOutlierX, bGreyOutlierY, x, y, 4.3, "#D2D2D2", "none", 0, "non-significant-motif");
  thresholds(g, bThresholdX, bThresholdY, x, y, 790, 1438, 75, 850, "#111");
  leader(g, 221, 1169, x(bLeftRingX[0]), y(bLeftRingY[0]), BLACK, 2.8, D, "leader-nfe2l2");
  leader(g, 221, 1191, x(bLeftRingX[1]), y(bLeftRingY[1]), BLACK, 2.8, D, "leader-nfe2");
  leader(g, 320, 1272, x(bLeftRingX[2]), y(bLeftRingY[2]), BLACK, 2.8, D, "leader-gata5");
  leader(g, 208, 1304, x(bLeftRingX[3]), y(bLeftRingY[3]), BLACK, 2.8, D, "leader-jdp2");
  leader(g, 208, 1326.5, x(bLeftRingX[4]), y(bLeftRingY[4]), BLACK, 2.8, D, "leader-jun");
  leader(g, 214, 1352, x(bLeftRingX[5]), y(bLeftRingY[5]), BLACK, 2.8, D, "leader-fos");
  leader(g, 307, 1376, x(bLeftRingX[6]), y(bLeftRingY[6]), BLACK, 2.8, D, "leader-fosb");
  leader(g, 617, 1028.6, x(bBlueX[0]), y(bBlueY[0]), BLUE, 2.8, D, "leader-stat1");
  leader(g, 617, 1074, x(bBlueX[1]), y(bBlueY[1]), BLUE, 2.8, D, "leader-stat3");
  leader(g, 638, 1112, x(bBlueX[2]), y(bBlueY[2]), BLUE, 2.8, D, "leader-stat5b");
  leader(g, 638, 1163, x(bBlueX[3]), y(bBlueY[3]), BLUE, 2.8, D, "leader-stat5a");
  drawDots(g, bBlackX, bBlackY, x, y, 4.4, "#0A0A0A", "none", 0, "significant-motif");
  leader(g, 815, 851, x(bRedX[2]), y(bRedY[2]), RED, 2.8, D, "leader-tal1");
  leader(g, 815, 877, x(bRedX[3]), y(bRedY[3]), RED, 2.8, D, "leader-lyl1");
  leader(g, 802, 901, x(bRedX[1]), y(bRedY[1]), RED, 2.8, D, "leader-lmo2");
  leader(g, 804, 933, x(bRedX[4]), y(bRedY[4]), RED, 2.8, D, "leader-snai1");
  leader(g, 812, 966, x(bRedX[5]), y(bRedY[5]), RED, 2.8, D, "leader-tcf4");
  leader(g, 835, 994, x(bRedX[6]), y(bRedY[6]), RED, 2.8, D, "leader-id3");
  leader(g, 835, 1017, x(bRedX[6]), y(bRedY[6]), RED, 2.8, D, "leader-id4");
  leader(g, 810, 1057, x(bRedX[7]), y(bRedY[7]), RED, 2.8, D, "leader-zeb1");
  leader(g, 780, 1090, x(bRedX[8]), y(bRedY[8]), RED, 2.8, D, "leader-runx1");
  leader(g, 772, 1140, x(bPurpleX[0]), y(bPurpleY[0]), PURPLE, 2.8, D, "leader-tgif2lx");
  leader(g, 775, 1168, x(bPurpleX[1]), y(bPurpleY[1]), PURPLE, 2.8, D, "leader-tgif2ly");
  leader(g, 801, 1189, x(bPurpleX[2]), y(bPurpleY[2]), PURPLE, 2.8, D, "leader-tgif2");
  leader(g, 786, 1224, x(bPurpleX[3]), y(bPurpleY[3]), PURPLE, 2.8, D, "leader-smad1");
  leader(g, 784, 1254, x(bPurpleX[4]), y(bPurpleY[4]), PURPLE, 2.8, D, "leader-smad4");
  leader(g, 832, 1278, x(bTealX[0]), y(bTealY[0]), TEAL, 2.8, D, "leader-rel");
  leader(g, 795, 1308, x(bTealX[1]), y(bTealY[1]), TEAL, 2.8, D, "leader-nfkb1");
  leader(g, 812, 1335, x(bTealX[2]), y(bTealY[2]), TEAL, 2.8, D, "leader-rela");
  leader(g, 812, 1362, x(bTealX[3]), y(bTealY[3]), TEAL, 2.8, D, "leader-relb");
  leader(g, 795, 1387, x(bTealX[4]), y(bTealY[4]), TEAL, 2.8, D, "leader-nfkb2");
  drawDots(g, bLeftRingX, bLeftRingY, x, y, RR, "#E8E8E8", "#111", RS, "labelled-motif");
  drawDots(g, bRedX, bRedY, x, y, RR, RED, "#111", RS, "myeloid-motif");
  drawDots(g, bBlueX, bBlueY, x, y, RR, BLUE, "#111", RS, "stat-motif");
  drawDots(g, bPurpleX, bPurpleY, x, y, RR, "#9A5BA8", "#111", RS, "tgfb-motif");
  drawDots(g, bTealX, bTealY, x, y, RR, TEAL, "#111", RS, "nfkb-motif");
  const t = document.getElementById("b-ticks");
  axisTicks(t, bXTicks, bXTickLabels, x, 1438, true, 1472, 3, 0);
  axisTicks(t, bYTicks, bYTickLabels, y, 75, false, 62, 3, 9.5);
})();

/* ---------- PANEL C ---------- */
function violinPath(xc, yf, vals, dens, halfWidth) {
  const n = vals.length;
  const right = [], left = [];
  for (let i = 0; i < n; i++) {
    right.push([xc + dens[i] * halfWidth, yf(vals[i])]);
    left.push([xc - dens[i] * halfWidth, yf(vals[i])]);
  }
  const pts = right.concat(left.reverse());
  let d = "M" + pts[0][0] + " " + pts[0][1];
  function seg(list) {
    for (let i = 0; i < list.length - 1; i++) {
      const p0 = list[Math.max(i - 1, 0)], p1 = list[i], p2 = list[i + 1], p3 = list[Math.min(i + 2, list.length - 1)];
      d += " C" + (p1[0] + (p2[0] - p0[0]) / 6) + " " + (p1[1] + (p2[1] - p0[1]) / 6) + " " + (p2[0] - (p3[0] - p1[0]) / 6) + " " + (p2[1] - (p3[1] - p1[1]) / 6) + " " + p2[0] + " " + p2[1];
    }
  }
  seg(right);
  d += " L" + left[0][0] + " " + left[0][1];
  seg(left);
  return d + " Z";
}
function drawViolin(g, xc, yf, vals, dens, box, fill, boxFill, label) {
  const hw = 35;
  const body = make(g, "path", {d: violinPath(xc, yf, vals, dens, hw), fill: fill, stroke: "#2E2E2E", "stroke-width": 2.8, "stroke-linejoin": "round"});
  
  
  const whisk = make(g, "line", {x1: xc, x2: xc, y1: yf(vals[0]), y2: yf(vals[vals.length - 1]), stroke: "#2E2E2E", "stroke-width": 2.6});
  
  
  const rect = make(g, "rect", {x: xc - 8.5, y: yf(box[2]), width: 17, height: yf(box[0]) - yf(box[2]), fill: boxFill, stroke: "#333", "stroke-width": 2});
  
  
  const med = make(g, "line", {x1: xc - 8.5, x2: xc + 8.5, y1: yf(box[1]), y2: yf(box[1]), stroke: "#111", "stroke-width": 2.8});
  
  
}
function drawSubplot(name, axisX, top, axisY, right, yf, ticks, labels, cx1, cx2, wtVal, wtDen, wtBox, mutVal, mutDen, mutBox, wtLabelX, mutLabelX, labelY) {
  const root = document.getElementById("c-marks");
  const g = make(root, "g", {});
  
  
  drawViolin(g, cx1, yf, wtVal, wtDen, wtBox, "#D9DEEE", "#2C4BA0", name + '-wt');
  drawViolin(g, cx2, yf, mutVal, mutDen, mutBox, "#F6D3D6", "#D7202E", name + '-jak2');
  const ya = make(g, "line", {x1: axisX, x2: axisX, y1: top, y2: axisY + 1, stroke: "#111", "stroke-width": 2.6});
  
  
  const xa = make(g, "line", {x1: axisX - 1, x2: right, y1: axisY, y2: axisY, stroke: "#111", "stroke-width": 2.6});
  
  
  axisTicks(g, ticks, labels, yf, axisX, false, axisX - 7, 4, 8);
  const wt = make(g, "text", {x: wtLabelX, y: labelY, "text-anchor": "middle"});
  wt.textContent = cGroupLabels[0];
  
  
  const mt = make(g, "text", {x: mutLabelX, y: labelY, "class": "i"});
  mt.textContent = cGroupLabels[1];
  
  
  const sup = make(mt, "tspan", {dy: -10, style: "font-size:16px"});
  sup.textContent = "V617F";
}
function numLabels(ticks) {
  return ticks.map(function (t) { return t < 0 ? "−" + Math.abs(t) : String(t); });
}
drawSubplot("lmo2", 1027, 84, 322, 1196, linear(0, 229.6, 2, 179.4), lmo2Ticks, numLabels(lmo2Ticks), 1072.8, 1150.3, lmo2WtVal, lmo2WtDen, lmo2WtBox, lmo2MutVal, lmo2MutDen, lmo2MutBox, 1075, 1113, 359);
drawSubplot("stat1", 1309.3, 88, 325, 1479, linear(0, 239.8, 2, 192.4), stat1Ticks, numLabels(stat1Ticks), 1355.8, 1433.3, stat1WtVal, stat1WtDen, stat1WtBox, stat1MutVal, stat1MutDen, stat1MutBox, 1356, 1395, 359);
drawSubplot("stat5a", 1605, 92, 329.6, 1766, linear(0, 222.5, 2.5, 160), stat5aTicks, stat5aTickLabels, 1648.6, 1722.6, stat5aWtVal, stat5aWtDen, stat5aWtBox, stat5aMutVal, stat5aMutDen, stat5aMutBox, 1644, 1681, 359);
drawSubplot("tgif2", 1027, 380, 618, 1196, linear(0, 495.2, 2, 437.6), tgif2Ticks, numLabels(tgif2Ticks), 1072.8, 1150.3, tgif2WtVal, tgif2WtDen, tgif2WtBox, tgif2MutVal, tgif2MutDen, tgif2MutBox, 1075, 1113, 648);
drawSubplot("smad1", 1309.3, 376, 613.6, 1479, linear(0, 516.9, 2, 466.2), smad1Ticks, numLabels(smad1Ticks), 1355.8, 1433.3, smad1WtVal, smad1WtDen, smad1WtBox, smad1MutVal, smad1MutDen, smad1MutBox, 1356, 1395, 648);
drawSubplot("nfkb1", 1599, 376, 613.6, 1766, linear(0, 538.2, 5, 465.3), nfkb1Ticks, numLabels(nfkb1Ticks), 1644.5, 1720.3, nfkb1WtVal, nfkb1WtDen, nfkb1WtBox, nfkb1MutVal, nfkb1MutDen, nfkb1MutBox, 1644, 1681, 648);

/* ---------- PANEL D ---------- */
(function () {
  const g = document.getElementById("d-marks");
  const x = linear(0, 1356, 1, 1558.3), y = linear(0, 1410.6, 1, 1215);
  const BLUE = "#5F73BF", D = "13 9";
  drawColumns(g, dGreyColumns, x, y, 4.4, "#D2D2D2", "non-significant-motif");
  drawDots(g, dGreyOutlierX, dGreyOutlierY, x, y, 4.3, "#D2D2D2", "none", 0, "non-significant-motif");
  thresholds(g, dThresholdX, dThresholdY, x, y, 794, 1440, 967, 1745, "#111");
  leader(g, 1253, 1072, x(dHoxX[0]), y(dHoxY[0]), "#BDBDBD", 2.8, D, "leader-hoxc13");
  leader(g, 1501, 1046, x(dBlueX[0]), y(dBlueY[0]), BLUE, 2.8, D, "leader-bach2");
  leader(g, 1501, 1080, x(dBlueX[1]), y(dBlueY[1]), BLUE, 2.8, D, "leader-jdp2");
  leader(g, 1501, 1107, x(dBlueX[2]), y(dBlueY[2]), BLUE, 2.8, D, "leader-fosb");
  leader(g, 1510, 1173, x(dBlueX[3]), y(dBlueY[3]), BLUE, 2.8, D, "leader-bach1");
  leader(g, 1658, 1029, x(dBlueX[4]), y(dBlueY[4]), BLUE, 2.8, D, "leader-smarcc1");
  leader(g, 1658, 1054, x(dBlueX[5]), y(dBlueY[5]), BLUE, 2.8, D, "leader-fosl1");
  leader(g, 1652, 1079, x(dBlueX[6]), y(dBlueY[6]), BLUE, 2.8, D, "leader-fos");
  leader(g, 1657, 1106, x(dBlueX[7]), y(dBlueY[7]), BLUE, 2.8, D, "leader-jund");
  leader(g, 1657, 1133, x(dBlueX[6]), y(dBlueY[6]), BLUE, 2.8, D, "leader-fosl2");
  leader(g, 1657, 1158, x(dBlueX[8]), y(dBlueY[8]), BLUE, 2.8, D, "leader-junb");
  leader(g, 1657, 1184, x(dBlueX[9]), y(dBlueY[9]), BLUE, 2.8, D, "leader-jun");
  drawDots(g, dBlackX, dBlackY, x, y, 4.4, "#0A0A0A", "none", 0, "significant-motif");
  drawDots(g, dHoxX, dHoxY, x, y, 3.4, "#E8E8E8", "#111", 2.8, "hoxc13-motif");
  drawDots(g, dBlueX, dBlueY, x, y, 3.4, BLUE, "#111", 2.8, "jun-fos-motif");
  const t = document.getElementById("d-ticks");
  axisTicks(t, dXTicks, dXTickLabels, x, 1440, true, 1469, 3, 4);
  axisTicks(t, dYTicks, dYTickLabels, y, 967, false, 959, 3, 9.5);
})();
</script>
</body>
</html>
